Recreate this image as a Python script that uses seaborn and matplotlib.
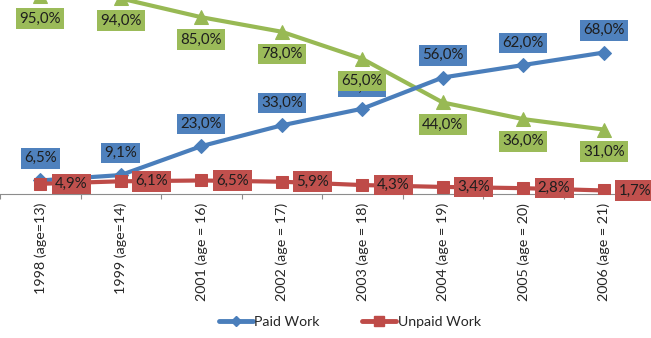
import pandas as pd
import numpy as np
import matplotlib
matplotlib.use('Agg')
import matplotlib.pyplot as plt
from matplotlib.lines import Line2D
import seaborn as sns

# data
years = ['1998 (age=13)', '1999 (age=14)', '2001 (age = 16)', '2002 (age = 17)',
         '2003 (age = 18)', '2004 (age = 19)', '2005 (age = 20)', '2006 (age = 21)']
paid_work = [6.5, 9.1, 23.0, 33.0, 41.0, 56.0, 62.0, 68.0]
unpaid_work = [4.9, 6.1, 6.5, 5.9, 4.3, 3.4, 2.8, 1.7]
no_work = [95.0, 94.0, 85.0, 78.0, 65.0, 44.0, 36.0, 31.0]

sns.set_theme(style='white')
plt.rcParams['font.family'] = ['Lato', 'DejaVu Sans']

blue, blue_box = '#4A7EBB', '#4F81BD'
red, red_box = '#BE4B48', '#C0504D'
green, green_box = '#98B954', '#9BBB59'
txt = '#1e1e1e'

df = pd.DataFrame({'pos': np.arange(len(years)), 'year': years,
                   'Paid Work': paid_work, 'Unpaid Work': unpaid_work,
                   'No Work': no_work})

fig = plt.figure(figsize=(6.51, 3.38), dpi=100)
ax = fig.add_axes([0.0, (338 - 194) / 338, 644 / 651, 208 / 338])

sns.lineplot(data=df, x='pos', y='No Work', ax=ax, color=green, lw=3,
             marker='^', markersize=10, markeredgecolor=green, zorder=3)
sns.lineplot(data=df, x='pos', y='Paid Work', ax=ax, color=blue, lw=3,
             marker='D', markersize=7, markeredgecolor=blue, zorder=3)
sns.lineplot(data=df, x='pos', y='Unpaid Work', ax=ax, color=red, lw=3,
             marker='s', markersize=9, markeredgecolor=red, zorder=3)

def label(x, y, dx, dy, face, z, ha='center'):
    ax.annotate(f'{y:.1f}%'.replace('.', ','), (x, y), xytext=(dx, dy),
                textcoords='offset points', ha=ha, va='center',
                fontsize=10.8, color=txt, zorder=z, annotation_clip=False,
                bbox=dict(boxstyle='square,pad=0.22', fc=face, ec='none'))

for i in range(len(years)):
    label(i, paid_work[i], 0, 16, blue_box, 5)
    label(i, no_work[i], 0, -16, green_box, 6)
    label(i, unpaid_work[i], 10.5, 0, red_box, 7, ha='left')

ax.set_xlim(-0.5, len(years) - 0.5)
ax.set_ylim(0, 100)
ax.set_xticks(df['pos'])
ax.set_xticklabels(years, rotation=90, fontsize=10.3, color='#262626')
ax.set_xticks(np.arange(-0.5, len(years)), minor=True)
ax.tick_params(axis='x', which='major', length=0, pad=6.5)
ax.tick_params(axis='x', which='minor', length=3.6, width=0.8,
               color='#8c8c8c', bottom=True, direction='out')
ax.set_yticks([])
ax.set_xlabel('')
ax.set_ylabel('')
for side in ['top', 'right', 'left']:
    ax.spines[side].set_visible(False)
ax.spines['bottom'].set_color('#8c8c8c')
ax.spines['bottom'].set_linewidth(0.8)

handles = [Line2D([], [], color=blue, lw=3.5, marker='D', markersize=5),
           Line2D([], [], color=red, lw=3.5, marker='s', markersize=7)]
fig.legend(handles, ['Paid Work', 'Unpaid Work'], loc='center',
           bbox_to_anchor=(350 / 651, 1 - 322 / 338), ncol=2, frameon=False,
           fontsize=10.2, handlelength=2.4, handletextpad=0.1, columnspacing=3.0,
           labelcolor='#262626')

fig.savefig('out.png', dpi=100)
